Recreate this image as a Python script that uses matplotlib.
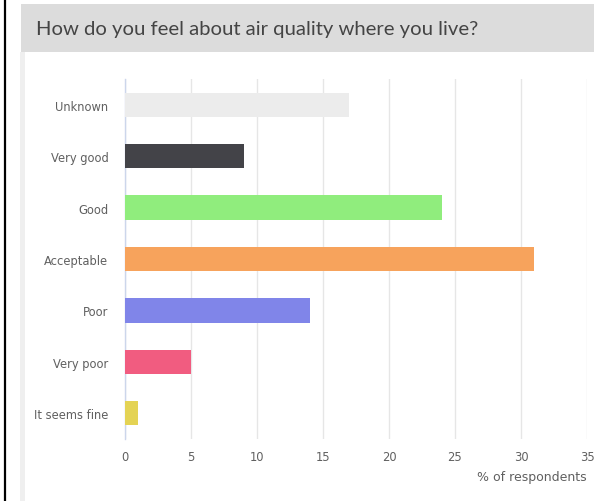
import matplotlib
matplotlib.use('Agg')
import matplotlib.pyplot as plt
from matplotlib.patches import Rectangle
from matplotlib.lines import Line2D

# Данные опроса
categories = ['Unknown', 'Very good', 'Good', 'Acceptable', 'Poor', 'Very poor', 'It seems fine']
values = [17, 9, 24, 31, 14, 5, 1]
colors = ['#ececec', '#434348', '#90ed7d', '#f7a35c', '#8085e9', '#f15c80', '#e4d354']
x_ticks = [0, 5, 10, 15, 20, 25, 30, 35]

W, H = 594, 502
fig = plt.figure(figsize=(W / 100, H / 100), dpi=100)
fig.patch.set_facecolor('white')

# Рамка слева и серая полоса панели
fig.add_artist(Line2D([5 / W, 5 / W], [0, 1], color='black', lw=1.6))
fig.add_artist(Rectangle((20 / W, 0), 5 / W, 1 - 53 / H, color='#efefef', lw=0))

# Заголовок
fig.add_artist(Rectangle((21 / W, 1 - 53 / H), 1, 48 / H, color='#dcdcdc', lw=0))
fig.text(36 / W, 1 - 30 / H, 'How do you feel about air quality where you live?',
         fontsize=14.6, color='#444444', family='Lato', va='center', ha='left')

ax = fig.add_axes([125 / W, 1 - 440 / H, (587 - 125) / W, (440 - 80) / H])
y = list(range(len(categories)))
ax.barh(y, values, height=0.47, color=colors, zorder=3)
ax.set_ylim(len(categories) - 0.5, -0.5)
ax.set_xlim(0, 35)

ax.set_xticks(x_ticks)
ax.set_xticklabels([str(t) for t in x_ticks])
ax.set_yticks(y)
ax.set_yticklabels(categories)
ax.tick_params(axis='both', length=0, labelsize=8.3, labelcolor='#606060')
ax.tick_params(axis='x', pad=8)
ax.tick_params(axis='y', pad=12)

ax.grid(axis='x', color='#e6e6e6', lw=1, zorder=0)
for s in ['top', 'right', 'bottom']:
    ax.spines[s].set_visible(False)
ax.spines['left'].set_color('#ccd6eb')
ax.spines['left'].set_linewidth(1)

fig.text(587 / W, 1 - 478 / H, '% of respondents', fontsize=9, color='#606060',
         ha='right', va='center')

plt.savefig('out.png', dpi=100)
